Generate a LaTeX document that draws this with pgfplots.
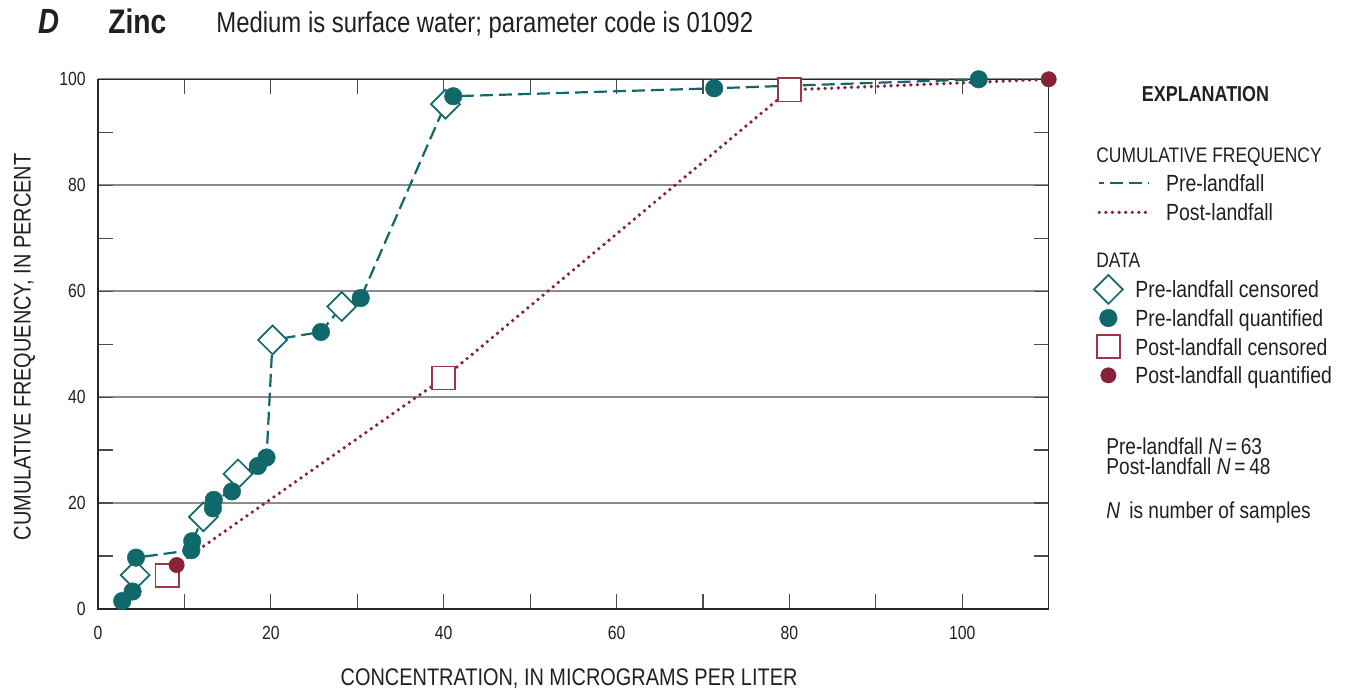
\documentclass[border=0pt]{standalone}
\usepackage{fontspec}
\setmainfont{Liberation Sans}[FakeStretch=0.83]
\usepackage{pgfplots}
\usepackage{pgfplotstable}
\pgfplotsset{compat=1.18}
\definecolor{tealc}{RGB}{16,104,106}
\definecolor{redc}{RGB}{135,34,56}
\definecolor{redsq}{RGB}{152,56,72}
\definecolor{redln}{RGB}{135,36,58}
\definecolor{txt}{RGB}{35,31,32}

\pgfplotstableread{
x y
2.8 1.5
4.0 3.3
4.3 6.4
4.4 9.7
10.8 11.1
10.9 12.8
12.2 17.4
13.3 19.0
13.4 20.6
15.5 22.2
16.2 25.5
18.5 27.0
19.5 28.6
20.2 50.8
25.8 52.3
28.2 57.1
30.4 58.7
40.2 95.3
41.1 96.8
71.3 98.3
101.9 100
}\preline

\pgfplotstableread{
x y
4.3 6.4
12.2 17.4
16.2 25.5
20.2 50.8
28.2 57.1
40.2 95.3
}\precens

\pgfplotstableread{
x y
2.8 1.5
4.0 3.3
4.4 9.7
10.8 11.1
10.9 12.8
13.3 19.0
13.4 20.6
15.5 22.2
18.5 27.0
19.5 28.6
25.8 52.3
30.4 58.7
41.1 96.8
71.3 98.3
101.9 100
}\prequant

\pgfplotstableread{
x y
9.1 8.3
40.0 43.6
80.0 98.0
110 100
}\postline

\pgfplotstableread{
x y
8.0 6.3
40.0 43.6
80.0 98.0
}\postcens

\pgfplotstableread{
x y
9.1 8.3
110 100
}\postquant

\pgfplotsset{
  frame/.style={at={(0,0)}, anchor=south west, scale only axis,
    width=475.35pt, height=264.85pt,
    xmin=0, xmax=110, ymin=0, ymax=100},
  legcommon/.style={legend cell align=left,
    legend style={anchor=north west, draw=none, fill=none, inner sep=0pt,
      column sep=8pt, font=\fontsize{11.7}{13}\selectfont, text=txt,
      nodes={inner sep=0pt, text height=8.4pt, text depth=0pt}}},
}

\begin{document}
\begin{tikzpicture}[text=txt]
\useasboundingbox (-49pt,-40.5pt) rectangle (623.5pt,304.5pt);

\begin{axis}[frame,
  xtick={0,20,...,100}, minor xtick={10,30,...,90},
  ytick={0,20,...,100}, minor ytick={10,30,...,90},
  tick align=inside, tick pos=both,
  major tick length=7.5pt, minor tick length=7.5pt,
  tick style={black!70, line width=0.6pt},
  axis line style={black!85, line width=0.7pt},
  ymajorgrids, major grid style={black!45, line width=0.8pt},
  clip=false,
  /pgf/number format/assume math mode=true,
  ticklabel style={font=\fontsize{9.5}{11}\selectfont, text=txt},
  xticklabel style={inner sep=0pt, anchor=north, yshift=-8.5pt},
  yticklabel style={inner sep=0pt, anchor=east, xshift=-6pt},
  xlabel={CONCENTRATION, IN MICROGRAMS PER LITER},
  ylabel={CUMULATIVE FREQUENCY, IN PERCENT},
  every axis x label/.style={at={(axis description cs:0.4955,0)}, anchor=base, yshift=-38.3pt, inner sep=0pt, font=\fontsize{12}{14}\selectfont, text=txt},
  every axis y label/.style={at={(axis description cs:-0.0709,0.4946)}, rotate=90, anchor=base, inner sep=0pt, font=\fontsize{12}{14}\selectfont, text=txt},
  legcommon,
  legend style={at={(1.0508,0.620)}, row sep=5.93pt},
  legend image code/.code={\draw[#1,overlay] plot coordinates {(5.5pt,0pt)}; \path[draw=none,fill=none] (0pt,0pt) -- (11pt,0pt);},
]
\addplot[forget plot, no markers, tealc, line width=1.1pt, dash pattern=on 6.5pt off 3pt] table {\preline};
\addplot[forget plot, no markers, redln, line width=1.85pt, line cap=round, dash pattern=on 0pt off 3.3pt] table {\postline};
\addplot[only marks, mark=square*, mark size=5.1pt, mark options={rotate=45, solid, fill=white, draw=tealc, line width=0.85pt}] table {\precens};
\addlegendentry{Pre-landfall censored}
\addplot[only marks, mark=*, mark size=4.4pt, mark options={solid, fill=tealc, draw=tealc, line width=0.2pt}] table {\prequant};
\addlegendentry{Pre-landfall quantified}
\addplot[only marks, mark=square*, mark size=5.8pt, mark options={solid, fill=white, draw=redsq, line width=0.85pt}] table {\postcens};
\addlegendentry{Post-landfall censored}
\addplot[only marks, mark=*, mark size=3.85pt, mark options={solid, fill=redc, draw=redc, line width=0.2pt}] table {\postquant};
\addlegendentry{Post-landfall quantified}
\end{axis}

\begin{axis}[frame, hide axis, legcommon,
  legend style={at={(1.0508,0.8201)}, row sep=6.1pt, column sep=7.5pt},
  legend image code/.code={\draw[#1] (0pt,0pt) -- (25pt,0pt);},
]
\addlegendimage{tealc, line width=1.1pt, dash pattern=on 6.5pt off 3pt, dash phase=4pt}
\addlegendentry{Pre-landfall}
\addlegendimage{redln, line width=1.85pt, line cap=round, dash pattern=on 0pt off 3.3pt}
\addlegendentry{Post-landfall}
\end{axis}

% title
\node[anchor=base west, inner sep=0pt, font=\fontsize{17.5}{19}\selectfont\bfseries\itshape] at (-30pt,287.5pt) {D};
\node[anchor=base west, inner sep=0pt, font=\fontsize{17}{19}\selectfont\bfseries] at (5pt,287.5pt) {Zinc};
\node[anchor=base west, inner sep=0pt, font=\fontsize{14.4}{17}\selectfont] at (59pt,288pt) {Medium is surface water; parameter code is 01092};

% explanation headings and notes
\node[anchor=base, inner sep=0pt, font=\fontsize{10.8}{13}\selectfont\bfseries] at (553.75pt,253.65pt) {EXPLANATION};
\node[anchor=base west, inner sep=0pt, font=\fontsize{10.5}{13}\selectfont] at (499pt,223.05pt) {CUMULATIVE FREQUENCY};
\node[anchor=base west, inner sep=0pt, font=\fontsize{10.5}{13}\selectfont] at (499pt,170.55pt) {DATA};
\node[anchor=base west, inner sep=0pt, font=\fontsize{11.5}{13}\selectfont] at (504pt,77.05pt) {Pre-landfall \textit{N}\,=\,63};
\node[anchor=base west, inner sep=0pt, font=\fontsize{11.5}{13}\selectfont] at (504pt,67.05pt) {Post-landfall \textit{N}\,=\,48};
\node[anchor=base west, inner sep=0pt, font=\fontsize{11.5}{13}\selectfont] at (504pt,45pt) {\textit{N}\, is number of samples};
\end{tikzpicture}
\end{document}
